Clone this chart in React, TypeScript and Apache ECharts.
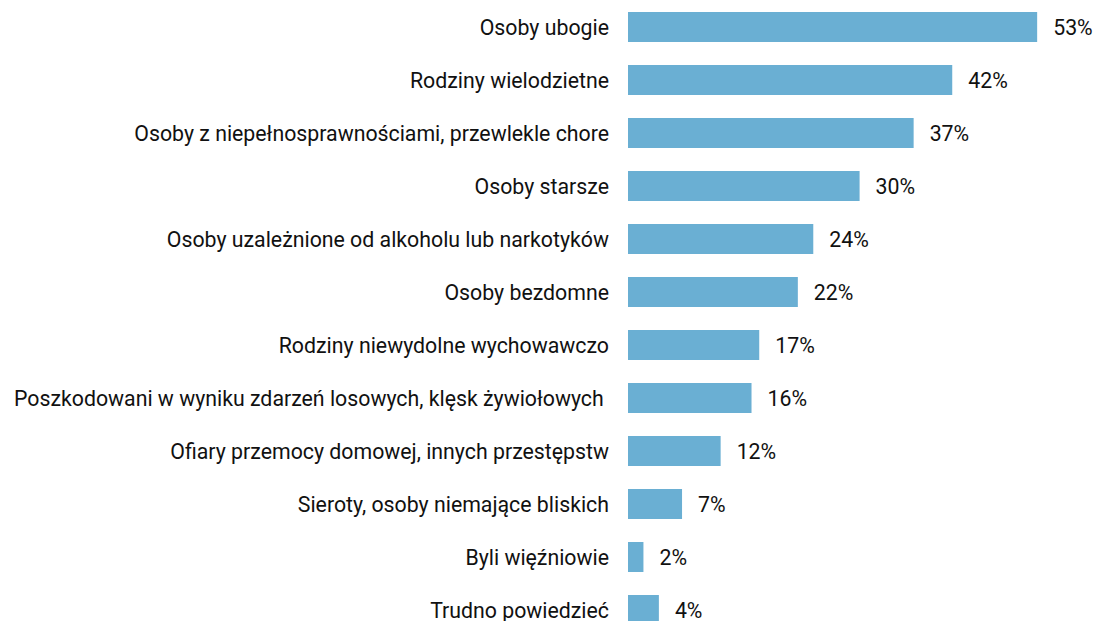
import React, { useEffect, useRef } from "react";
import * as echarts from "echarts";

const categories = [
  "Osoby ubogie",
  "Rodziny wielodzietne",
  "Osoby z niepełnosprawnościami, przewlekle chore",
  "Osoby starsze",
  "Osoby uzależnione od alkoholu lub narkotyków",
  "Osoby bezdomne",
  "Rodziny niewydolne wychowawczo",
  "Poszkodowani w wyniku zdarzeń losowych, klęsk żywiołowych ",
  "Ofiary przemocy domowej, innych przestępstw",
  "Sieroty, osoby niemające bliskich",
  "Byli więźniowie",
  "Trudno powiedzieć",
];
const values = [53, 42, 37, 30, 24, 22, 17, 16, 12, 7, 2, 4];

export default function App() {
  const ref = useRef<HTMLDivElement>(null);
  useEffect(() => {
    if (!ref.current) return;
    const chart = echarts.init(ref.current, null, { renderer: "svg" });
    chart.setOption({
      animation: false,
      textStyle: { fontFamily: "Roboto" },
      grid: { left: 628, top: 0.5, width: 463.2, height: 636, containLabel: false },
      xAxis: { type: "value", min: 0, max: 60, show: false },
      yAxis: {
        type: "category",
        inverse: true,
        data: categories,
        axisLine: { show: false },
        axisTick: { show: false },
        splitLine: { show: false },
        axisLabel: { margin: 19, fontSize: 21.3, color: "#111", fontFamily: "Roboto" },
      },
      series: [
        {
          type: "bar",
          data: values,
          barWidth: 30,
          itemStyle: { color: "#6aafd3" },
          label: {
            show: true,
            position: "right",
            distance: 16,
            formatter: "{c}%",
            fontSize: 21.3,
            color: "#111",
            fontFamily: "Roboto",
          },
        },
      ],
    });
    return () => chart.dispose();
  }, []);
  return (
    <div
      ref={ref}
      style={{ position: "absolute", left: 0, top: 0, width: 1094, height: 650 }}
    />
  );
}
